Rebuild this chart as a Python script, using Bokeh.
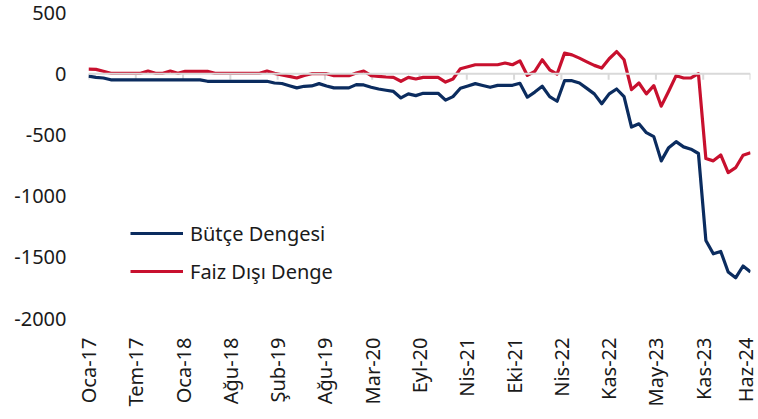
import math
from bokeh.plotting import figure
from bokeh.models import Range1d, FixedTicker, Span, Legend, LegendItem
from bokeh.embed import file_html
from bokeh.resources import INLINE

# Monthly data, Oca-17 ... Haz-24 (90 months)
butce = [
    -20, -30, -35, -50, -50, -50, -50, -50, -50, -50,
    -50, -50, -50, -50, -50, -50, -62, -62, -62, -62,
    -62, -62, -62, -62, -62, -76, -80, -98, -116, -103,
    -100, -81, -100, -116, -116, -116, -89, -92, -111, -125,
    -135, -145, -198, -165, -179, -160, -160, -160, -216, -187,
    -119, -100, -81, -96, -111, -95, -95, -95, -78, -192,
    -150, -103, -187, -225, -57, -57, -76, -120, -165, -246,
    -165, -125, -187, -436, -409, -482, -514, -712, -604, -555,
    -598, -617, -652, -1362, -1471, -1452, -1620, -1668, -1571, -1620,
]
faiz = [
    38, 35, 20, 3, 3, 3, 3, 3, 22, 3,
    3, 22, 3, 19, 19, 19, 19, 3, 3, 3,
    3, 3, 3, 3, 22, 3, -10, -22, -35, -15,
    0, 0, 0, -16, -16, -16, 5, 22, -16, -22,
    -27, -30, -62, -30, -43, -30, -30, -30, -68, -43,
    41, 57, 73, 73, 73, 73, 87, 73, 105, -14,
    19, 114, 32, -3, 168, 154, 127, 97, 68, 46,
    122, 181, 114, -130, -76, -165, -97, -265, -143, -16,
    -35, -35, 0, -693, -712, -664, -808, -768, -666, -645,
]
tick_labels = ["Oca-17", "Tem-17", "Oca-18", "Ağu-18", "Şub-19", "Ağu-19", "Mar-20",
               "Eyl-20", "Nis-21", "Eki-21", "Nis-22", "Kas-22", "May-23", "Kas-23", "Haz-24"]
y_ticks = [500, 0, -500, -1000, -1500, -2000]
series_names = ["Bütçe Dengesi", "Faiz Dışı Denge"]

n = len(butce)
months = list(range(n))
tick_pos = [k * (n - 1) / (len(tick_labels) - 1) for k in range(len(tick_labels))]

FONT = "Noto Sans"
TXT = "#1a1a1a"
NAVY = "#0B2C5F"
RED = "#C8102E"
GRAY = "#D9D9D9"

W = 758
H = 419
TOP = 12
FRAME_H = 306
BOTTOM = H - TOP - FRAME_H
y0, y1 = min(y_ticks), max(y_ticks)
px_to_units = (y1 - y0) / FRAME_H

p = figure(width=W, height=H, output_backend="svg", toolbar_location=None,
           x_range=Range1d(0, n - 1), y_range=Range1d(y0, y1),
           min_border_left=88, min_border_right=8, min_border_top=TOP,
           min_border_bottom=BOTTOM)
p.outline_line_color = None
p.grid.visible = False
p.background_fill_color = "white"
p.border_fill_color = "white"

# zero line with tick marks
p.add_layout(Span(location=0, dimension="width", line_color=GRAY, line_width=2))
p.segment(x0=tick_pos, x1=tick_pos, y0=[0] * len(tick_pos),
          y1=[-6 * px_to_units] * len(tick_pos), line_color=GRAY, line_width=2)

r1 = p.line(months, butce, line_color=NAVY, line_width=3.2, line_join="round")
r2 = p.line(months, faiz, line_color=RED, line_width=3.2, line_join="round")

xa = p.xaxis[0]
xa.ticker = FixedTicker(ticks=tick_pos)
xa.major_label_overrides = {t: lab for t, lab in zip(tick_pos, tick_labels)}
xa.axis_line_color = None
xa.major_tick_line_color = None
xa.minor_tick_line_color = None
xa.major_tick_out = 0
xa.major_tick_in = 0
xa.major_label_orientation = math.pi / 2
xa.major_label_standoff = 19
xa.major_label_text_font = FONT
xa.major_label_text_font_size = "20px"
xa.major_label_text_color = TXT

ya = p.yaxis[0]
ya.ticker = FixedTicker(ticks=y_ticks)
ya.major_label_overrides = {v: str(v) for v in y_ticks}
ya.axis_line_color = None
ya.major_tick_line_color = None
ya.minor_tick_line_color = None
ya.major_tick_out = 0
ya.major_tick_in = 0
ya.major_label_standoff = 22
ya.major_label_text_font = FONT
ya.major_label_text_font_size = "20px"
ya.major_label_text_color = TXT

legend = Legend(items=[LegendItem(label=series_names[0], renderers=[r1]),
                       LegendItem(label=series_names[1], renderers=[r2])],
                location=(42, 32), border_line_color=None, background_fill_alpha=0,
                padding=0, margin=0, spacing=8, glyph_width=53, glyph_height=30,
                label_height=30, label_standoff=7, label_text_font=FONT,
                label_text_font_size="20px", label_text_color=TXT)
p.add_layout(legend)

open("out.html", "w").write(file_html(p, INLINE))
